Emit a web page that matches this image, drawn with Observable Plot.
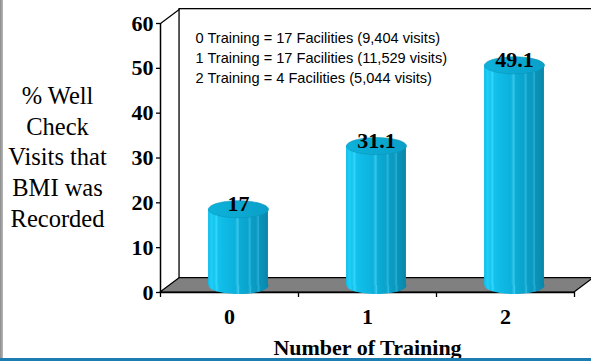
<!DOCTYPE html>
<html><head><meta charset="utf-8">
<script src="https://cdn.jsdelivr.net/npm/d3@7"></script>
<script src="https://cdn.jsdelivr.net/npm/@observablehq/plot@0.6"></script>
<style>
body{margin:0;background:#fff;}
#wrap{position:relative;width:591px;height:361px;overflow:hidden;background:#fff;}
#wrap svg{position:absolute;left:0;top:0;}
.bl{position:absolute;left:0;top:0;width:3px;height:361px;background:linear-gradient(to right,#8c8c8c,#b8b8b8);}
.bb{position:absolute;left:0;bottom:0;width:591px;height:3px;background:#1b7db0;}
</style></head><body><div id="wrap"></div><script>
// ---- data ----
const categories = [0, 1, 2];
const values = [17, 31.1, 49.1];
const yTicks = [0, 10, 20, 30, 40, 50, 60];
const xTickMarks = [-0.5, 0.5, 1.5, 2.5];
const legendLines = [
  "0 Training = 17 Facilities (9,404 visits)",
  "1 Training = 17 Facilities (11,529 visits)",
  "2 Training = 4 Facilities (5,044 visits)"
];
const yTitle = "% Well\nCheck\nVisits that\nBMI was\nRecorded";
const xTitle = "Number of Training";

const data = categories.map((c, i) => ({x: c, value: values[i], label: String(values[i])}));

// 3D depth (in data units) and bar half-width
const depthX = 0.138, depthY = 3.2, half = 0.217;
const floorPts = [
  {y: 0, x1: -0.5, x2: 2.5},
  {y: depthY, x1: -0.5 + depthX, x2: 2.5 + depthX}
];

function ellipseSymbol(rx, ry) {
  const k = 0.5523;
  return {draw(ctx) {
    ctx.moveTo(rx, 0);
    ctx.bezierCurveTo(rx, ry * k, rx * k, ry, 0, ry);
    ctx.bezierCurveTo(-rx * k, ry, -rx, ry * k, -rx, 0);
    ctx.bezierCurveTo(-rx, -ry * k, -rx * k, -ry, 0, -ry);
    ctx.bezierCurveTo(rx * k, -ry, rx, -ry * k, rx, 0);
    ctx.closePath();
  }};
}
const ell = ellipseSymbol(30, 8.5);

const serif = "'Liberation Serif','Times New Roman',serif";
const sans = "'Liberation Sans',Arial,sans-serif";

const chart = Plot.plot({
  width: 591, height: 361,
  marginTop: 23, marginBottom: 69, marginLeft: 160, marginRight: 17,
  x: {type: "linear", domain: [-0.5, 2.5]},
  y: {type: "linear", domain: [0, 60]},
  style: {background: "transparent", color: "black"},
  marks: [
    // back wall
    Plot.rect({length: 1}, {x1: -0.5 + depthX, x2: 2.5 + depthX, y1: depthY, y2: 60 + depthY, fill: "white", stroke: "black", strokeWidth: 1.3}),
    // floor
    Plot.areaX(floorPts, {y: "y", x1: "x1", x2: "x2", fill: "#808080", stroke: "black", strokeWidth: 1.2}),
    // top-left diagonal
    Plot.link({length: 1}, {x1: -0.5, y1: 60, x2: -0.5 + depthX, y2: 60 + depthY, stroke: "black", strokeWidth: 1.2}),
    // front axis lines
    Plot.ruleX([-0.5], {stroke: "black", strokeWidth: 1.5}),
    Plot.ruleY([0], {stroke: "black", strokeWidth: 1.5}),
    // cylinders
    Plot.dot(data, {x: "x", y: 0, dx: 9, dy: -7, symbol: ell, fill: "url(#cyl)", stroke: "none"}),
    Plot.rectY(data, {x1: d => d.x - half, x2: d => d.x + half, y1: 0, y2: "value", dx: 9, dy: -7, fill: "url(#cyl)"}),
    Plot.dot(data, {x: "x", y: "value", dx: 9, dy: -7, symbol: ell, fill: "url(#cyltop)", stroke: "#0b93b8", strokeWidth: 0.6}),
    Plot.text(data, {x: "x", y: "value", text: "label", dx: 9, dy: -12, fontSize: 22, fontWeight: "bold", fontFamily: serif, fill: "black"}),
    // axes
    Plot.axisY({ticks: yTicks, tickSize: 4, tickPadding: 3, fontSize: 22, fontWeight: "bold", fontFamily: serif, label: null, strokeWidth: 1.3}),
    Plot.axisX({ticks: xTickMarks, tickSize: 5, tickFormat: () => "", label: null, strokeWidth: 1.3}),
    Plot.axisX({ticks: categories, tickSize: 0, tickPadding: 16, tickFormat: d => String(d), fontSize: 22, fontWeight: "bold", fontFamily: serif, label: null}),
    // titles & legend
    Plot.text([yTitle], {frameAnchor: "left", dx: -103, dy: -2.5, textAnchor: "middle", lineHeight: 1.25, fontSize: 24.5, fontFamily: serif, fill: "black"}),
    Plot.text([xTitle], {frameAnchor: "bottom", lineAnchor: "bottom", dy: 62, fontSize: 22, fontWeight: "bold", fontFamily: serif, fill: "black"}),
    Plot.text([legendLines.join("\n")], {frameAnchor: "top-left", textAnchor: "start", lineAnchor: "top", dx: 35, dy: 5, lineHeight: 1.38, fontSize: 14.6, fontFamily: sans, fill: "black"})
  ]
});

const ns = "http://www.w3.org/2000/svg";
const defs = document.createElementNS(ns, "defs");
defs.innerHTML = `
<linearGradient id="cyl" x1="0" x2="1" y1="0" y2="0">
  <stop offset="0" stop-color="#10bce8"/>
  <stop offset="0.06" stop-color="#1ed0f8"/>
  <stop offset="0.1" stop-color="#14c4ef"/>
  <stop offset="0.14" stop-color="#30d6fa"/>
  <stop offset="0.17" stop-color="#12c1ec"/>
  <stop offset="0.3" stop-color="#0eb9e4"/>
  <stop offset="0.45" stop-color="#0cb1dc"/>
  <stop offset="0.5" stop-color="#3ac8ec"/>
  <stop offset="0.52" stop-color="#0badd6"/>
  <stop offset="0.66" stop-color="#0aa3cc"/>
  <stop offset="0.7" stop-color="#2bb8de"/>
  <stop offset="0.72" stop-color="#0a9ec6"/>
  <stop offset="0.8" stop-color="#0a98c0"/>
  <stop offset="0.84" stop-color="#26aed4"/>
  <stop offset="0.86" stop-color="#0993ba"/>
  <stop offset="0.93" stop-color="#0a8eb3"/>
  <stop offset="1" stop-color="#0a84a6"/>
</linearGradient>
<linearGradient id="cyltop" x1="0" x2="1" y1="0" y2="0">
  <stop offset="0" stop-color="#0db2db"/>
  <stop offset="1" stop-color="#0a9fc8"/>
</linearGradient>`;
chart.insertBefore(defs, chart.firstChild);

const wrap = document.getElementById("wrap");
wrap.appendChild(chart);
const bl = document.createElement("div"); bl.className = "bl"; wrap.appendChild(bl);
const bb = document.createElement("div"); bb.className = "bb"; wrap.appendChild(bb);
</script></body></html>
